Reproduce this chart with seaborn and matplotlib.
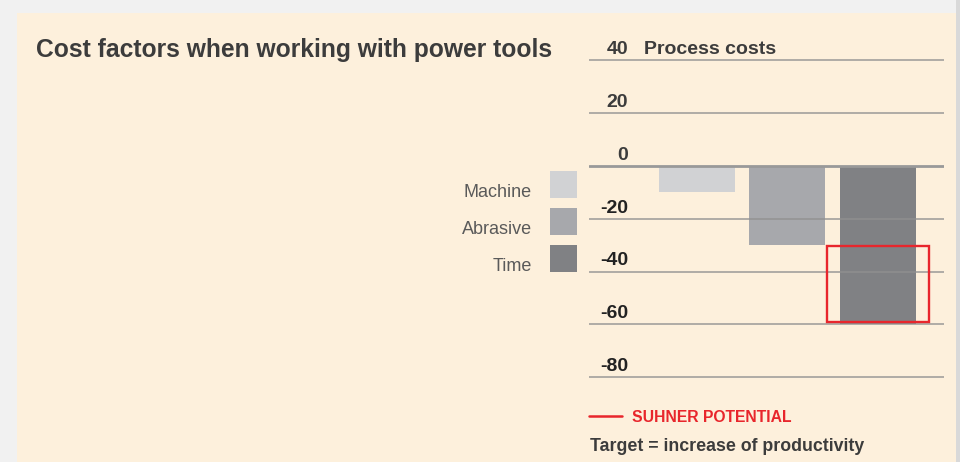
"""Cost factors when working with power tools - bar chart."""

import matplotlib

matplotlib.use("Agg")
import matplotlib.pyplot as plt
from matplotlib.patches import Rectangle
import seaborn as sns

# data
categories = ["Machine", "Abrasive", "Time"]
costs = [-10, -30, -60]
bar_colors = ["#d1d2d4", "#a7a8ac", "#808184"]
y_ticks = [40, 20, 0, -20, -40, -60, -80]
potential_top = -30.5
potential_bottom = -59

W, H = 960, 462
PANEL = "#fdf0dc"
RED = "#e8262c"
DARK = "#3c3c3c"


def fx(px):
    return px / W


def fy(py):
    return 1 - py / H


sns.set_theme(style="white")
plt.rcParams["font.family"] = ["Liberation Sans", "DejaVu Sans"]

fig = plt.figure(figsize=(9.6, 4.62), dpi=100, facecolor="#f1f1f1")

# beige panel + right edge strip (behind the axes)
fig.patches.append(Rectangle((fx(17), 0), fx(956) - fx(17), fy(13), transform=fig.transFigure,
                             facecolor=PANEL, edgecolor="none", zorder=-2))
fig.patches.append(Rectangle((fx(956), 0), fx(960) - fx(956), 1, transform=fig.transFigure,
                             facecolor="#d9d9d9", edgecolor="none", zorder=-2))

# axes: x data -1.19..2.73 -> 589..944 px, y data -82..42 -> 382.6..54.7 px
ax = fig.add_axes([fx(589), fy(382.6), fx(944) - fx(589), fy(54.7) - fy(382.6)])
ax.patch.set_alpha(0)

sns.barplot(x=categories, y=costs, hue=categories, palette=bar_colors, width=0.84,
            saturation=1, legend=False, ax=ax, zorder=2, edgecolor="none", linewidth=0)
ax.set_xlim(-1.19, 2.73)
ax.set_ylim(-82, 42)

# gridlines sit on top of the bars, labels above each line
for v in y_ticks:
    if v == 0:
        ax.axhline(v, color="#999999", lw=2.0, zorder=3)
    else:
        ax.axhline(v, color="#909090", alpha=0.76, lw=1.3, zorder=3)
    ax.text(-0.76, v + 2.3, f"{v}", ha="right", va="baseline", fontsize=14,
            fontweight="bold", color=DARK if v >= 0 else "#222222")

ax.text(-0.58, 40 + 2.3, "Process costs", ha="left", va="baseline", fontsize=14,
        fontweight="bold", color=DARK)

# red potential box around the time bar
i_time = categories.index("Time")
ax.add_patch(Rectangle((i_time - 0.56, potential_bottom), 1.12, potential_top - potential_bottom,
                       fill=False, edgecolor=RED, lw=1.7, zorder=4))

for s in ax.spines.values():
    s.set_visible(False)
ax.set_xticks([])
ax.set_yticks([])
ax.set_xlabel("")
ax.set_ylabel("")

# title
fig.text(fx(36), fy(56.7), "Cost factors when working with power tools", ha="left",
         va="baseline", fontsize=17.7, fontweight="bold", color=DARK)

# legend on the left of the axes
for k, (name, col) in enumerate(zip(categories, bar_colors)):
    top = 171 + 37 * k
    fig.patches.append(Rectangle((fx(550), fy(top + 26.7)), fx(576.7) - fx(550),
                                 fy(top) - fy(top + 26.7), transform=fig.transFigure,
                                 facecolor=col, edgecolor="none"))
    fig.text(fx(531.7), fy(top + 26.3), name, ha="right", va="baseline", fontsize=13,
             color="#5a5a5a")

# potential note
fig.add_artist(plt.Line2D([fx(589), fx(621.7)], [fy(416), fy(416)], transform=fig.transFigure,
                          color=RED, lw=1.8))
fig.text(fx(632), fy(422), "SUHNER POTENTIAL", ha="left", va="baseline", fontsize=11.3,
         fontweight="bold", color=RED)
fig.text(fx(590), fy(451), "Target = increase of productivity", ha="left", va="baseline",
         fontsize=12.8, fontweight="bold", color=DARK)

fig.savefig("out.png", dpi=100, facecolor=fig.get_facecolor())
plt.close(fig)
